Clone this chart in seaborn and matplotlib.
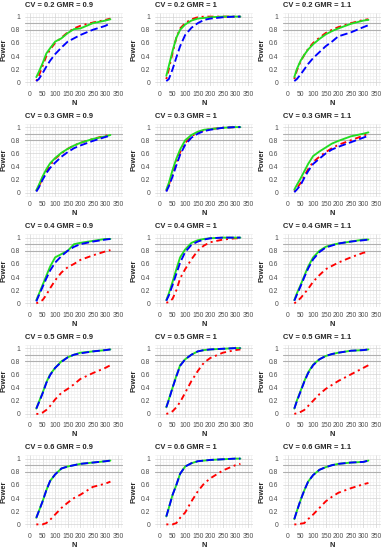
import numpy as np
import pandas as pd
import matplotlib
matplotlib.use("Agg")
import matplotlib.pyplot as plt
import seaborn as sns
from matplotlib.ticker import MultipleLocator

N = [25, 35, 50, 65, 80, 100, 125, 150, 175, 200, 250, 300, 320]
CVS = ["0.2", "0.3", "0.4", "0.5", "0.6"]
GMRS = ["0.9", "1", "1.1"]

red_02_09 = [0.02, 0.10, 0.25, 0.40, 0.50, 0.60, 0.68, 0.76, 0.82, 0.86, 0.91, 0.95, 0.97]
green_02_09 = [0.08, 0.16, 0.29, 0.44, 0.52, 0.62, 0.67, 0.75, 0.81, 0.82, 0.90, 0.94, 0.96]
blue_02_09 = [0.02, 0.05, 0.14, 0.24, 0.33, 0.43, 0.53, 0.62, 0.67, 0.72, 0.80, 0.86, 0.90]

red_02_10 = [0.05, 0.20, 0.45, 0.68, 0.82, 0.90, 0.96, 0.99, 1.00, 1.00, 1.00, 1.00, 1.00]
green_02_10 = [0.10, 0.25, 0.48, 0.68, 0.80, 0.88, 0.94, 0.97, 0.98, 0.99, 1.00, 1.00, 1.00]
blue_02_10 = [0.02, 0.05, 0.20, 0.38, 0.55, 0.72, 0.83, 0.90, 0.95, 0.97, 0.99, 1.00, 1.00]

red_02_11 = [0.05, 0.18, 0.32, 0.42, 0.51, 0.60, 0.68, 0.75, 0.80, 0.84, 0.90, 0.95, 0.96]
green_02_11 = [0.08, 0.20, 0.33, 0.42, 0.50, 0.58, 0.66, 0.73, 0.78, 0.82, 0.89, 0.94, 0.95]
blue_02_11 = [0.02, 0.05, 0.12, 0.20, 0.28, 0.37, 0.46, 0.55, 0.62, 0.70, 0.76, 0.84, 0.87]

red_03_09 = [0.03, 0.10, 0.22, 0.33, 0.42, 0.52, 0.60, 0.67, 0.72, 0.76, 0.82, 0.87, 0.88]
green_03_09 = [0.04, 0.12, 0.25, 0.36, 0.45, 0.53, 0.61, 0.67, 0.72, 0.76, 0.82, 0.86, 0.88]
blue_03_09 = [0.02, 0.08, 0.20, 0.30, 0.38, 0.46, 0.55, 0.62, 0.68, 0.72, 0.79, 0.85, 0.87]

red_03_10 = [0.03, 0.12, 0.30, 0.47, 0.62, 0.76, 0.86, 0.92, 0.95, 0.97, 0.99, 1.00, 1.00]
green_03_10 = [0.05, 0.15, 0.35, 0.52, 0.66, 0.80, 0.88, 0.93, 0.96, 0.97, 0.99, 1.00, 1.00]
blue_03_10 = [0.02, 0.10, 0.25, 0.42, 0.58, 0.73, 0.84, 0.90, 0.94, 0.96, 0.99, 1.00, 1.00]

red_03_11 = [0.02, 0.07, 0.15, 0.26, 0.36, 0.47, 0.55, 0.62, 0.68, 0.73, 0.80, 0.87, 0.90]
green_03_11 = [0.05, 0.12, 0.22, 0.33, 0.44, 0.56, 0.63, 0.69, 0.75, 0.79, 0.86, 0.90, 0.92]
blue_03_11 = [0.01, 0.05, 0.12, 0.23, 0.33, 0.44, 0.52, 0.60, 0.66, 0.70, 0.77, 0.84, 0.87]

red_04_09 = [0.00, 0.02, 0.05, 0.13, 0.23, 0.35, 0.47, 0.55, 0.60, 0.66, 0.73, 0.79, 0.81]
green_04_09 = [0.05, 0.14, 0.28, 0.42, 0.56, 0.70, 0.75, 0.80, 0.90, 0.92, 0.95, 0.98, 0.98]
blue_04_09 = [0.03, 0.12, 0.25, 0.38, 0.50, 0.62, 0.72, 0.80, 0.86, 0.90, 0.94, 0.97, 0.98]

red_04_10 = [0.01, 0.02, 0.07, 0.20, 0.38, 0.52, 0.67, 0.80, 0.88, 0.93, 0.97, 0.99, 0.99]
green_04_10 = [0.05, 0.15, 0.33, 0.52, 0.70, 0.82, 0.92, 0.96, 0.98, 0.99, 1.00, 1.00, 1.00]
blue_04_10 = [0.04, 0.12, 0.28, 0.45, 0.62, 0.78, 0.89, 0.94, 0.97, 0.99, 1.00, 1.00, 1.00]

red_04_11 = [0.00, 0.03, 0.08, 0.15, 0.22, 0.33, 0.43, 0.52, 0.57, 0.62, 0.70, 0.77, 0.78]
green_04_11 = [0.05, 0.15, 0.28, 0.42, 0.56, 0.70, 0.80, 0.86, 0.89, 0.91, 0.94, 0.97, 0.97]
blue_04_11 = [0.04, 0.13, 0.26, 0.40, 0.53, 0.67, 0.78, 0.85, 0.88, 0.91, 0.94, 0.96, 0.97]

red_05_09 = [0.00, 0.00, 0.02, 0.06, 0.12, 0.22, 0.32, 0.38, 0.45, 0.53, 0.62, 0.70, 0.74]
green_05_09 = [0.08, 0.18, 0.32, 0.48, 0.60, 0.70, 0.80, 0.86, 0.90, 0.93, 0.95, 0.97, 0.98]
blue_05_09 = [0.08, 0.17, 0.31, 0.47, 0.59, 0.70, 0.79, 0.86, 0.90, 0.92, 0.95, 0.97, 0.98]

red_05_10 = [0.00, 0.01, 0.04, 0.10, 0.18, 0.32, 0.50, 0.65, 0.78, 0.85, 0.93, 0.97, 0.98]
green_05_10 = [0.10, 0.22, 0.40, 0.58, 0.74, 0.83, 0.90, 0.95, 0.97, 0.98, 0.99, 1.00, 1.00]
blue_05_10 = [0.10, 0.21, 0.40, 0.57, 0.73, 0.83, 0.90, 0.95, 0.97, 0.98, 0.99, 1.00, 1.00]

red_05_11 = [0.00, 0.01, 0.03, 0.06, 0.12, 0.20, 0.30, 0.38, 0.44, 0.50, 0.60, 0.70, 0.74]
green_05_11 = [0.08, 0.20, 0.35, 0.50, 0.63, 0.75, 0.83, 0.88, 0.91, 0.93, 0.96, 0.97, 0.98]
blue_05_11 = [0.08, 0.19, 0.34, 0.49, 0.62, 0.74, 0.83, 0.88, 0.91, 0.93, 0.96, 0.97, 0.98]

red_06_09 = [0.00, 0.00, 0.00, 0.02, 0.07, 0.15, 0.25, 0.33, 0.40, 0.45, 0.57, 0.62, 0.65]
green_06_09 = [0.10, 0.20, 0.35, 0.52, 0.66, 0.76, 0.85, 0.88, 0.90, 0.92, 0.94, 0.96, 0.97]
blue_06_09 = [0.10, 0.20, 0.35, 0.52, 0.66, 0.76, 0.85, 0.88, 0.90, 0.92, 0.94, 0.96, 0.97]

red_06_10 = [0.00, 0.00, 0.00, 0.02, 0.10, 0.18, 0.35, 0.50, 0.62, 0.70, 0.82, 0.90, 0.92]
green_06_10 = [0.12, 0.25, 0.45, 0.60, 0.77, 0.88, 0.93, 0.96, 0.97, 0.98, 0.99, 1.00, 1.00]
blue_06_10 = [0.12, 0.25, 0.45, 0.60, 0.77, 0.88, 0.93, 0.96, 0.97, 0.98, 0.99, 1.00, 1.00]

red_06_11 = [0.00, 0.00, 0.01, 0.02, 0.08, 0.15, 0.25, 0.35, 0.42, 0.48, 0.55, 0.61, 0.63]
green_06_11 = [0.08, 0.20, 0.37, 0.52, 0.65, 0.75, 0.83, 0.87, 0.90, 0.92, 0.94, 0.95, 0.97]
blue_06_11 = [0.08, 0.20, 0.37, 0.52, 0.65, 0.75, 0.83, 0.87, 0.90, 0.92, 0.94, 0.95, 0.97]

panels = {
    ("0.2", "0.9"): (red_02_09, green_02_09, blue_02_09),
    ("0.2", "1"): (red_02_10, green_02_10, blue_02_10),
    ("0.2", "1.1"): (red_02_11, green_02_11, blue_02_11),
    ("0.3", "0.9"): (red_03_09, green_03_09, blue_03_09),
    ("0.3", "1"): (red_03_10, green_03_10, blue_03_10),
    ("0.3", "1.1"): (red_03_11, green_03_11, blue_03_11),
    ("0.4", "0.9"): (red_04_09, green_04_09, blue_04_09),
    ("0.4", "1"): (red_04_10, green_04_10, blue_04_10),
    ("0.4", "1.1"): (red_04_11, green_04_11, blue_04_11),
    ("0.5", "0.9"): (red_05_09, green_05_09, blue_05_09),
    ("0.5", "1"): (red_05_10, green_05_10, blue_05_10),
    ("0.5", "1.1"): (red_05_11, green_05_11, blue_05_11),
    ("0.6", "0.9"): (red_06_09, green_06_09, blue_06_09),
    ("0.6", "1"): (red_06_10, green_06_10, blue_06_10),
    ("0.6", "1.1"): (red_06_11, green_06_11, blue_06_11),
}

methods = ["red", "green", "blue"]
palette = {"red": "#FF0000", "green": "#22DD22", "blue": "#0000FF"}
dashes = {"red": (1.1, 2.0, 3.2, 2.0), "green": "", "blue": (4.0, 1.8)}

sns.set_style("white")
plt.rcParams["font.family"] = ["Liberation Sans", "DejaVu Sans"]

W, H = 388, 550
fig = plt.figure(figsize=(W / 100, H / 100), dpi=100)

lefts = [25, 155, 283]
pw, ph = 98, 73

for r, cv in enumerate(CVS):
    top = 13 + 110.5 * r
    for c, gmr in enumerate(GMRS):
        ax = fig.add_axes([lefts[c] / W, 1 - (top + ph) / H, pw / W, ph / H])
        vals = panels[(cv, gmr)]
        rows = []
        for m, v in zip(methods, vals):
            for n, p in zip(N, v):
                rows.append({"N": n, "Power": p, "method": m})
        df = pd.DataFrame(rows)
        ax.set_facecolor("white")
        ax.set_xlim(-20, 370)
        ax.set_ylim(-0.055, 1.055)
        ax.xaxis.set_major_locator(MultipleLocator(50))
        ax.xaxis.set_minor_locator(MultipleLocator(12.5))
        ax.yaxis.set_major_locator(MultipleLocator(0.2))
        ax.yaxis.set_minor_locator(MultipleLocator(0.05))
        ax.grid(which="major", color="#d4d4d4", lw=0.5)
        ax.grid(which="minor", color="#ececec", lw=0.4)
        ax.set_axisbelow(True)
        ax.axhline(0.8, color="#b0b0b0", lw=0.8, zorder=1.5)
        ax.axhline(0.9, color="#b0b0b0", lw=0.8, zorder=1.5)
        sns.lineplot(data=df, x="N", y="Power", hue="method", style="method",
                     hue_order=methods, style_order=methods, palette=palette,
                     dashes=dashes, linewidth=1.35, legend=False, ax=ax,
                     errorbar=None)
        for s in ax.spines.values():
            s.set_visible(False)
        ax.set_yticks([0, 0.2, 0.4, 0.6, 0.8, 1.0])
        ax.set_yticklabels(["0", "0.2", "0.4", "0.6", "0.8", "1"])
        ax.set_xticks([0, 50, 100, 150, 200, 250, 300, 350])
        ax.tick_params(axis="both", which="major", labelsize=4.9, colors="#333333",
                       length=2, width=0.5, pad=1.5, labelcolor="#4d4d4d")
        ax.tick_params(axis="y", which="minor", length=2, width=0.5, colors="#333333")
        ax.tick_params(axis="x", which="minor", length=0)
        ax.set_xlabel("N", fontsize=5.4, fontweight="bold", labelpad=1.5)
        ax.set_ylabel("Power", fontsize=5.4, fontweight="bold", labelpad=2.5)
        ax.set_title(f"CV = {cv} GMR = {gmr}", loc="left", fontsize=5.4,
                     fontweight="bold", pad=4)

fig.savefig("out.png", dpi=100)
